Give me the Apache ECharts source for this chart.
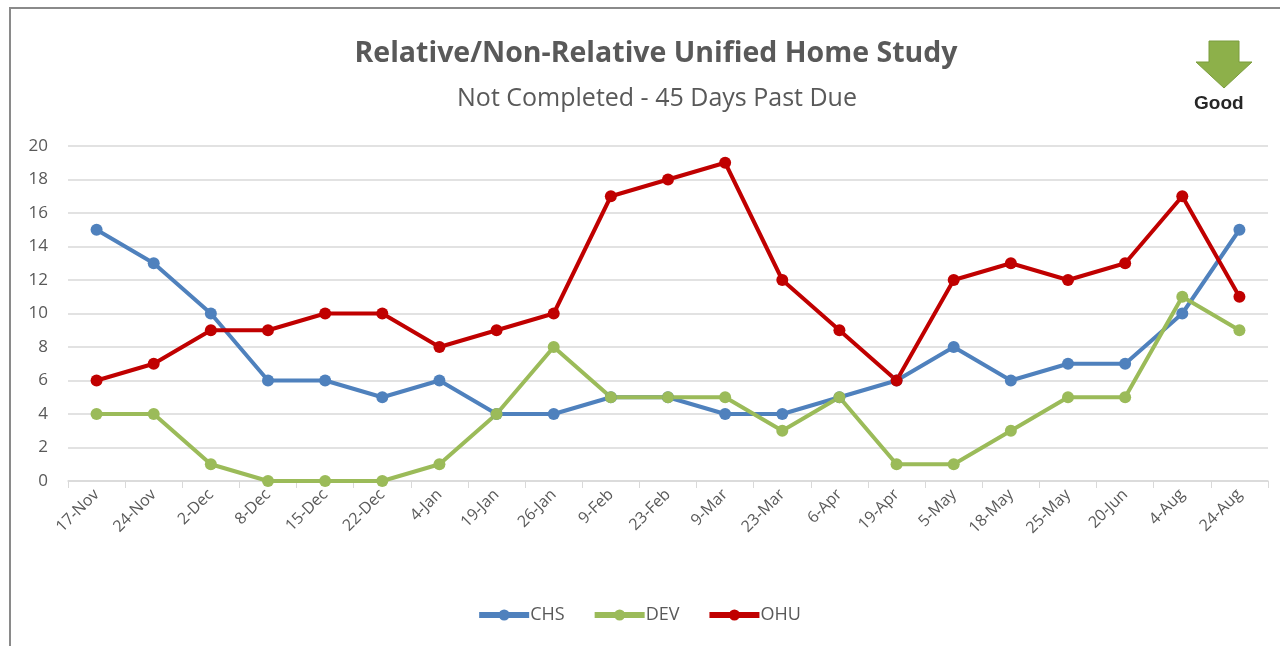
<!DOCTYPE html>
<html>
<head>
<meta charset="utf-8">
<script src="https://cdn.jsdelivr.net/npm/echarts@6/dist/echarts.min.js"></script>
<style>
  html, body { margin: 0; padding: 0; background: #fff; }
  #frame { position: absolute; left: 9px; top: 7px; width: 1290px; height: 660px; border-left: 2px solid #8a8a8a; border-top: 2px solid #8a8a8a; box-sizing: border-box; }
  #chart { position: absolute; left: 0; top: 0; width: 1280px; height: 646px; }
</style>
</head>
<body>
<div id="frame"></div>
<div id="chart"></div>
<script>
var dates = ['17-Nov','24-Nov','2-Dec','8-Dec','15-Dec','22-Dec','4-Jan','19-Jan','26-Jan','9-Feb','23-Feb','9-Mar','23-Mar','6-Apr','19-Apr','5-May','18-May','25-May','20-Jun','4-Aug','24-Aug'];
var chs = [15,13,10,6,6,5,6,4,4,5,5,4,4,5,6,8,6,7,7,10,15];
var dev = [4,4,1,0,0,0,1,4,8,5,5,5,3,5,1,1,3,5,5,11,9];
var ohu = [6,7,9,9,10,10,8,9,10,17,18,19,12,9,6,12,13,12,13,17,11];

var myChart = echarts.init(document.getElementById('chart'));

function lineSeries(name, color, data) {
  return {
    name: name,
    type: 'line',
    data: data,
    symbol: 'circle',
    symbolSize: 12,
    lineStyle: { color: color, width: 4 },
    itemStyle: { color: color },
    animation: false
  };
}

// thick line with a dot, like the spreadsheet legend key
var legendKey = 'path://M0,3 L50,3 L50,9 L0,9 Z M25,0.5 A5.5,5.5 0 1,1 25,11.5 A5.5,5.5 0 1,1 25,0.5 Z';

var option = {
  backgroundColor: 'transparent',
  title: [
    {
      text: 'Relative/Non-Relative Unified Home Study',
      left: 651, top: 34, textAlign: 'center',
      textStyle: { fontFamily: 'Open Sans', fontWeight: 'bold', fontSize: 28.5, color: '#595959' }
    },
    {
      text: 'Not Completed - 45 Days Past Due',
      left: 652, top: 81, textAlign: 'center',
      textStyle: { fontFamily: 'Open Sans', fontWeight: 'normal', fontSize: 25, color: '#595959' }
    }
  ],
  color: ['#4f81bd', '#9bbb59', '#c00000'],
  legend: {
    bottom: 17,
    left: 'center',
    icon: legendKey,
    itemWidth: 50,
    itemHeight: 12,
    itemGap: 30,
    textStyle: { fontFamily: 'Open Sans', fontSize: 18, color: '#595959', padding: [0, 0, 0, -4] },
    data: ['CHS', 'DEV', 'OHU']
  },
  grid: { left: 68, right: 12, top: 146, bottom: 165, containLabel: false },
  xAxis: {
    type: 'category',
    data: dates,
    boundaryGap: true,
    axisLine: { lineStyle: { color: '#d9d9d9', width: 1.5 } },
    axisTick: { show: true, length: 7, lineStyle: { color: '#d9d9d9' } },
    axisLabel: { rotate: 45, interval: 0, fontFamily: 'Open Sans', fontSize: 16, color: '#595959', margin: 11 }
  },
  yAxis: {
    type: 'value',
    min: 0, max: 20, interval: 2,
    axisLine: { show: false },
    axisTick: { show: false },
    axisLabel: { fontFamily: 'Open Sans', fontSize: 17, color: '#595959', margin: 20 },
    splitLine: { lineStyle: { color: '#d9d9d9', width: 1.5 } }
  },
  graphic: [
    {
      type: 'polygon',
      shape: { points: [[1209, 41], [1239, 41], [1239, 62], [1252, 62], [1224, 88], [1196, 62], [1209, 62]] },
      style: { fill: '#8db04a', stroke: '#7a9c3c', lineWidth: 1 }
    },
    {
      type: 'text',
      left: 1194, top: 94,
      style: { text: 'Good', font: 'bold 19px "Liberation Sans", Arial', fill: '#262626' }
    }
  ],
  series: [
    lineSeries('CHS', '#4f81bd', chs),
    lineSeries('DEV', '#9bbb59', dev),
    lineSeries('OHU', '#c00000', ohu)
  ]
};
myChart.setOption(option);
</script>
</body>
</html>
